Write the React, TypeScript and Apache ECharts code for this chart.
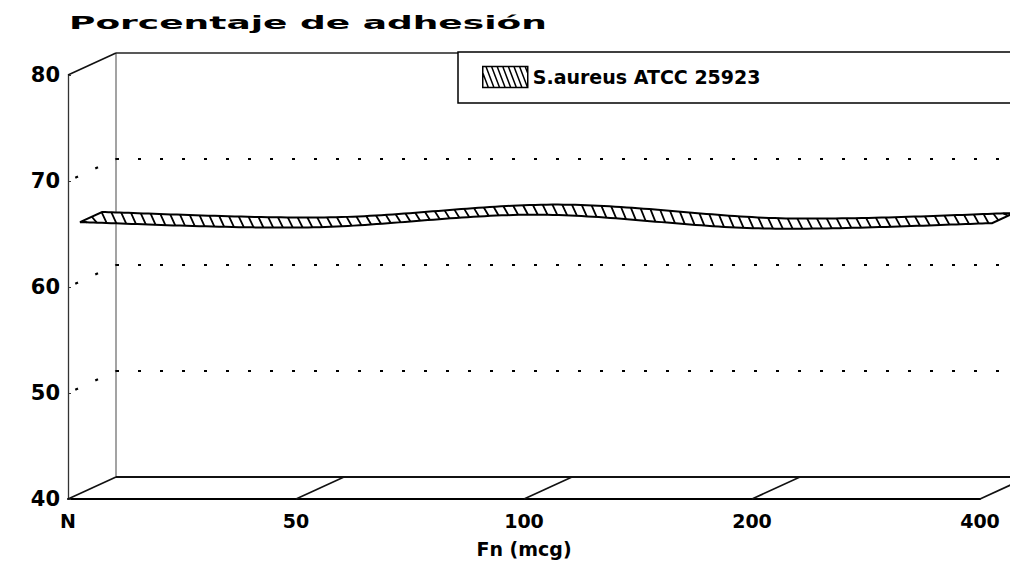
import React, { useEffect, useRef } from "react";
import * as echarts from "echarts";

// ---- data ----
const CATEGORIES = ["N", "50", "100", "200", "400"];
const VALUES = [65.6, 65.1, 66.3, 65.0, 65.5];
const SERIES_NAME = "S.aureus ATCC 25923";
const Y_MIN = 40;
const Y_MAX = 80;
const Y_STEP = 10;
const Y_TICKS = [40, 50, 60, 70, 80];
const TITLE = "Porcentaje de adhesión";
const X_NAME = "Fn (mcg)";

// ---- style / geometry ----
const FONT = "'DejaVu Sans', 'Liberation Sans', sans-serif";
const DEPTH_X = 48;
const DEPTH_Y = -22;
const RIB_FRONT = 0.25;
const RIB_BACK = 0.71;
const HATCH_STEP = 9.8;
const HATCH_SLANT = 5;

function legendIconPath(): string {
  const w = 45;
  const h = 21;
  let d = `M0 0L${w} 0L${w} ${h}L0 ${h}Z`;
  const run = 8;
  for (let a = -run; a < w; a += 5.6) {
    let x1 = a, y1 = 0, x2 = a + run, y2 = h;
    if (x1 < 0) { y1 = ((0 - a) / run) * h; x1 = 0; }
    if (x2 > w) { y2 = ((w - a) / run) * h; x2 = w; }
    if (y2 - y1 < 1) continue;
    d += `M${x1.toFixed(2)} ${y1.toFixed(2)}L${x2.toFixed(2)} ${y2.toFixed(2)}`;
  }
  return "path://" + d;
}

function frameRender(params: any, api: any) {
  const n = CATEGORIES.length;
  const c = (i: number, v: number) => api.coord([i, v]);
  const o = c(0, Y_MIN);
  const t = c(0, Y_MAX);
  const e = c(n - 1, Y_MIN);
  const farRight = e[0] + DEPTH_X;
  const children: any[] = [];
  const line = (x1: number, y1: number, x2: number, y2: number, style: any) =>
    children.push({ type: "line", shape: { x1, y1, x2, y2 }, style });
  const wall = { stroke: "#666", lineWidth: 1.2, fill: null };
  const dotted = { stroke: "#000", lineWidth: 2.2, lineDash: [3, 19], fill: null };
  line(t[0] + DEPTH_X, t[1] + DEPTH_Y, o[0] + DEPTH_X, o[1] + DEPTH_Y, wall);
  line(t[0], t[1], t[0] + DEPTH_X, t[1] + DEPTH_Y, { stroke: "#111", lineWidth: 1.6 });
  line(t[0] + DEPTH_X, t[1] + DEPTH_Y, farRight, t[1] + DEPTH_Y, { stroke: "#222", lineWidth: 1.5 });
  line(o[0] + DEPTH_X, o[1] + DEPTH_Y, farRight, o[1] + DEPTH_Y, { stroke: "#111", lineWidth: 2 });
  CATEGORIES.forEach((_, i) => {
    const p = c(i, Y_MIN);
    line(p[0], p[1], p[0] + DEPTH_X, p[1] + DEPTH_Y, { stroke: "#111", lineWidth: 1.6 });
  });
  Y_TICKS.filter((v) => v > Y_MIN && v < Y_MAX).forEach((v) => {
    const a = c(0, v);
    line(a[0] + DEPTH_X, a[1] + DEPTH_Y, farRight, a[1] + DEPTH_Y, dotted);
    line(a[0], a[1], a[0] + DEPTH_X, a[1] + DEPTH_Y, { ...dotted, lineDashOffset: -8 });
  });
  return { type: "group", children };
}

function ribbonRender(params: any, api: any) {
  if (params.dataIndex !== 0) return { type: "group", children: [] };
  const pts: number[][] = VALUES.map((v, i) => api.coord([i, v]));
  const fx = DEPTH_X * RIB_FRONT;
  const fy = DEPTH_Y * RIB_FRONT;
  const tx = DEPTH_X * (RIB_BACK - RIB_FRONT);
  const ty = DEPTH_Y * (RIB_BACK - RIB_FRONT);
  const SEG = 40;
  const samples: number[][] = [];
  for (let i = 0; i < pts.length - 1; i++) {
    const p0 = pts[Math.max(0, i - 1)];
    const p1 = pts[i];
    const p2 = pts[i + 1];
    const p3 = pts[Math.min(pts.length - 1, i + 2)];
    const c1 = [p1[0] + (p2[0] - p0[0]) / 6, p1[1] + (p2[1] - p0[1]) / 6];
    const c2 = [p2[0] - (p3[0] - p1[0]) / 6, p2[1] - (p3[1] - p1[1]) / 6];
    for (let k = 0; k < SEG; k++) {
      const s = k / SEG;
      const u = 1 - s;
      const b0 = u * u * u, b1 = 3 * u * u * s, b2 = 3 * u * s * s, b3 = s * s * s;
      samples.push([
        b0 * p1[0] + b1 * c1[0] + b2 * c2[0] + b3 * p2[0],
        b0 * p1[1] + b1 * c1[1] + b2 * c2[1] + b3 * p2[1],
      ]);
    }
  }
  samples.push(pts[pts.length - 1]);
  const front = samples.map((p) => [p[0] + fx, p[1] + fy]);
  const back = front.map((p) => [p[0] + tx, p[1] + ty]);
  const x0 = front[0][0];
  const y0 = front[0][1];
  const xL = front[front.length - 1][0];
  const yL = front[front.length - 1][1];
  const fyAt = (x: number) => {
    for (let j = 0; j < front.length - 1; j++) {
      const a = front[j], b = front[j + 1];
      if (x >= a[0] && x <= b[0]) {
        const r = b[0] === a[0] ? 0 : (x - a[0]) / (b[0] - a[0]);
        return a[1] + r * (b[1] - a[1]);
      }
    }
    return x < x0 ? y0 : yL;
  };
  let d = "";
  for (let xb = x0 + HATCH_SLANT + 2; xb <= xL + tx; xb += HATCH_STEP) {
    const xt = xb - HATCH_SLANT;
    const yb = xb <= xL ? fyAt(xb) : yL + (ty * (xb - xL)) / tx;
    const yt = xt >= x0 + tx ? fyAt(xt - tx) + ty : y0 + (ty * (xt - x0)) / tx;
    d += `M${xb.toFixed(2)} ${yb.toFixed(2)}L${xt.toFixed(2)} ${yt.toFixed(2)}`;
  }
  const poly = front.concat(back.slice().reverse());
  return {
    type: "group",
    children: [
      {
        type: "polygon",
        shape: { points: poly },
        style: { fill: "#fff", stroke: "#000", lineWidth: 2, lineJoin: "miter" },
      },
      {
        type: "path",
        shape: { pathData: d },
        style: { fill: null, stroke: "#000", lineWidth: 1.8 },
      },
    ],
  };
}

export default function App() {
  const ref = useRef<HTMLDivElement>(null);
  useEffect(() => {
    if (!ref.current) return;
    document.documentElement.style.overflow = "hidden";
    document.body.style.overflow = "hidden";
    document.body.style.margin = "0";
    const chart = echarts.init(ref.current, null, { renderer: "svg" });
    const option: any = {
      animation: false,
      backgroundColor: "#fff",
      grid: { left: 68, right: 30, top: 75, bottom: 71 },
      graphic: [
        {
          type: "text",
          x: 69,
          y: 23,
          scaleX: 2.0,
          style: {
            text: TITLE,
            fontSize: 18,
            fontWeight: "bold",
            fontFamily: FONT,
            fill: "#000",
            verticalAlign: "middle",
            align: "left",
          },
        },
      ],
      legend: {
        show: true,
        left: 458,
        top: 52,
        orient: "horizontal",
        padding: [13, 270, 14, 24],
        itemWidth: 45,
        itemHeight: 21,
        backgroundColor: "#fff",
        borderColor: "#000",
        borderWidth: 1.5,
        borderRadius: 0,
        textStyle: { fontSize: 19, fontWeight: "bold", fontFamily: FONT, color: "#000", lineHeight: 24 },
        data: [
          {
            name: SERIES_NAME,
            icon: legendIconPath(),
            itemStyle: { color: "#fff", borderColor: "#000", borderWidth: 1.5 },
          },
        ],
      },
      xAxis: {
        type: "category",
        data: CATEGORIES,
        boundaryGap: false,
        name: X_NAME,
        nameLocation: "middle",
        nameGap: 40,
        nameTextStyle: { fontSize: 19, fontWeight: "bold", fontFamily: FONT, color: "#000" },
        axisLine: { show: true, lineStyle: { color: "#000", width: 2 } },
        axisTick: { show: false },
        axisLabel: { fontSize: 19, fontWeight: "bold", fontFamily: FONT, color: "#000", margin: 12 },
        splitLine: { show: false },
      },
      yAxis: {
        type: "value",
        min: Y_MIN,
        max: Y_MAX,
        interval: Y_STEP,
        axisLine: { show: true, lineStyle: { color: "#333", width: 1.3 } },
        axisTick: { show: true, inside: true, length: 3, lineStyle: { color: "#333" } },
        axisLabel: { fontSize: 21, fontWeight: "bold", fontFamily: FONT, color: "#000", margin: 8 },
        splitLine: { show: false },
      },
      series: [
        {
          type: "custom",
          name: "frame",
          silent: true,
          z: 1,
          clip: false,
          data: [[0, Y_MIN]],
          encode: { x: 0, y: 1 },
          renderItem: frameRender,
        },
        {
          type: "custom",
          name: SERIES_NAME,
          silent: true,
          z: 3,
          clip: false,
          itemStyle: { color: "#fff", borderColor: "#000" },
          data: VALUES.map((v, i) => [i, v]),
          encode: { x: 0, y: 1 },
          renderItem: ribbonRender,
        },
      ],
    };
    chart.setOption(option);
    return () => chart.dispose();
  }, []);
  return (
    <div
      ref={ref}
      style={{ position: "absolute", left: 0, top: 0, width: 1010, height: 570, background: "#fff", overflow: "hidden" }}
    />
  );
}
